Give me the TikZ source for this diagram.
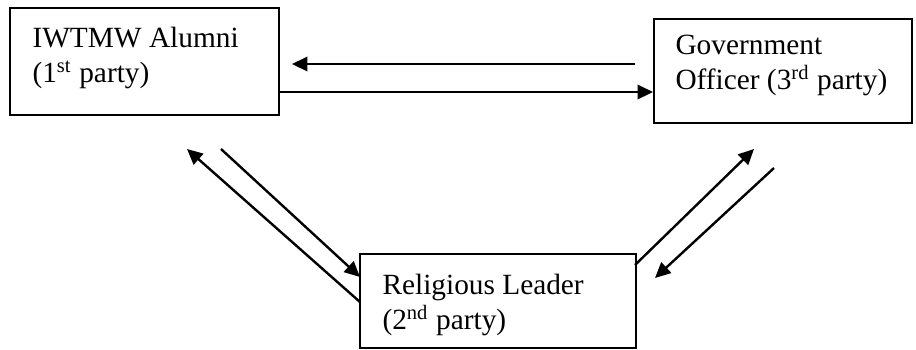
\documentclass[tikz,border=0pt]{standalone}
\usepackage{fontspec}
\setmainfont{Liberation Serif}
\usetikzlibrary{arrows.meta,fit}
\begin{document}
\begin{tikzpicture}[x=0.375pt,y=-0.375pt,
  box/.style={draw,line width=0.85pt,inner sep=0pt},
  txt/.style={inner sep=0pt,align=left,font=\fontsize{11pt}{13.1pt}\selectfont,anchor=north west},
  arr/.style={line width=0.9pt,-{Triangle[length=5.8pt,width=5.4pt]}}]
\useasboundingbox (0,0) rectangle (916,349);
% boxes
\coordinate (a1) at (10,8);   \coordinate (a2) at (279,115);
\coordinate (g1) at (654,19); \coordinate (g2) at (912,123);
\coordinate (r1) at (360,254);\coordinate (r2) at (636,348);
\node[box,fit=(a1)(a2)] (A) {};
\node[box,fit=(g1)(g2)] (G) {};
\node[box,fit=(r1)(r2)] (R) {};
% texts
\node[txt] (At) at (32,27) {IWTMW Alumni\\(1\textsuperscript{st} party)};
\node[txt] (Gt) at (675,35) {Government\\Officer (3\textsuperscript{rd} party)};
\node[txt] (Rt) at (382,274) {Religious Leader\\(2\textsuperscript{nd} party)};
% arrow end points
\coordinate (p1) at (635,64);  \coordinate (p2) at (292,64);
\coordinate (p3) at (279,92);  \coordinate (p4) at (653,92);
\coordinate (p5) at (360,302); \coordinate (p6) at (187,149);
\coordinate (p7) at (221,149); \coordinate (p8) at (360,277);
\coordinate (p9) at (635,265); \coordinate (p10) at (754,149);
\coordinate (p11) at (774,168);\coordinate (p12) at (655,278);
\draw[arr] (p1) -- (p2);
\draw[arr] (p3) -- (p4);
\draw[arr] (p5) -- (p6);
\draw[arr] (p7) -- (p8);
\draw[arr] (p9) -- (p10);
\draw[arr] (p11) -- (p12);
\end{tikzpicture}
\end{document}
